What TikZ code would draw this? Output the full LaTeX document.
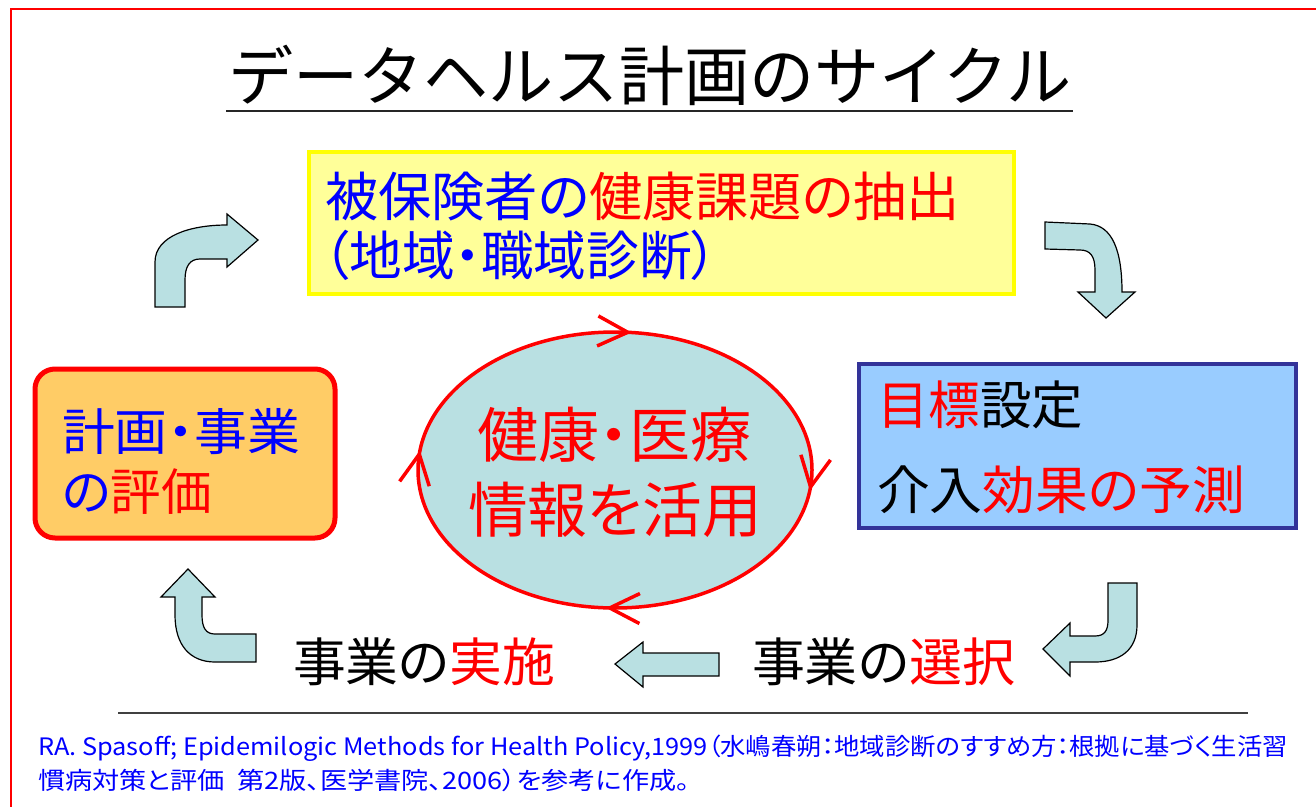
\documentclass[tikz,border=0pt]{standalone}
\usepackage{fontspec}
\usetikzlibrary{arrows.meta,decorations.markings}
\setmainfont{Noto Sans CJK JP}[RawFeature={+palt}]
\newfontfamily\titlefont{Noto Sans CJK JP}
\definecolor{jblue}{RGB}{0,0,255}
\definecolor{jred}{RGB}{255,0,0}
\definecolor{ylwfill}{RGB}{255,255,153}
\definecolor{ylwline}{RGB}{255,255,0}
\definecolor{bluefill}{RGB}{153,204,255}
\definecolor{blueline}{RGB}{51,51,153}
\definecolor{orgfill}{RGB}{255,204,102}
\definecolor{tealfill}{RGB}{185,224,226}
\newsavebox\fitbox
\newcommand\fitw[2]{\sbox\fitbox{#2}\pgfmathsetmacro\fitratio{#1/\the\wd\fitbox}\scalebox{\fitratio}[1]{\usebox\fitbox}}
\newcommand\fs[1]{\fontsize{#1}{#1}\selectfont}
\newcommand\vtip{\draw[jred, line width=3.5pt, line join=round, fill=none] (-30pt,15pt) -- (0pt,0pt) -- (-30pt,-15pt);}
\tikzset{
  txt/.style={anchor=west, inner sep=0pt, outer sep=0pt},
  blockarrow/.style={fill=tealfill, draw=black, line width=1.2pt, line join=miter},
  vbarb/.style={decoration={markings,
     mark=at position 0.016 with {\vtip},
     mark=at position 0.255 with {\vtip},
     mark=at position 0.515 with {\vtip},
     mark=at position 0.762 with {\vtip}},
     postaction={decorate}}
}
\begin{document}
\begin{tikzpicture}[x=1pt,y=-1pt]
\useasboundingbox (0,0) rectangle (1316,806);
\clip (0,0) rectangle (1316,806);
\fill[white] (0,0) rectangle (1316,806);
% outer frame
\draw[jred, line width=2pt] (11,9) rectangle (1340,840);

% title
\node[txt] (title) at (228,75) {\titlefont\fs{65}\fitw{844}{データヘルス計画のサイクル}};
\coordinate (ulA) at (226,111);
\coordinate (ulB) at (1073,111);
\draw[black!85, line width=2pt] (ulA) -- (ulB);

% yellow box
\node[draw=ylwline, fill=ylwfill, line width=4pt, minimum width=705pt, minimum height=142pt, inner sep=0pt] (extract) at (661.5,223) {};
\node[txt] (ex1) at (325,196) {\fs{53}\fitw{635}{\color{jblue}被保険者の\color{jred}健康課題の抽出}};
\node[txt] (ex2) at (323,255) {\fs{53}\fitw{395}{\color{jblue}（地域・職域診断）}};

% blue box
\node[draw=blueline, fill=bluefill, line width=4pt, minimum width=437pt, minimum height=164pt, inner sep=0pt] (goal) at (1077.5,446) {};
\node[txt] (g1) at (877,405) {\fs{52}\fitw{206}{\color{jred}目標\color{black}設定}};
\node[txt] (g2) at (877,490) {\fs{52}\fitw{368}{\color{black}介入\color{jred}効果の予測}};

% orange box
\node[draw=jred, fill=orgfill, line width=5pt, rounded corners=20pt, minimum width=300pt, minimum height=169pt, inner sep=0pt] (eval) at (185,453.5) {};
\node[txt] (e1) at (62,432) {\fs{50}\fitw{238}{\color{jblue}計画・事業}};
\node[txt] (e2) at (62,492) {\fs{50}\fitw{150}{\color{jblue}の\color{jred}評価}};

% central ellipse
\draw[jred, line width=3.5pt, fill=tealfill, vbarb] (615,470) ellipse (197 and 138);
\node[txt] (h1) at (477,435) {\fs{60}\fitw{275}{\color{jred}健康・医療}};
\node[txt] (h2) at (468,510) {\fs{60}\fitw{294}{\color{jred}情報を活用}};

% bottom texts
\node[txt] (sel) at (752,662) {\fs{52}\fitw{263}{\color{black}事業の\color{jred}選択}};
\node[txt] (impl) at (293,662) {\fs{52}\fitw{262}{\color{black}事業の\color{jred}実施}};

% block arrows
\draw[blockarrow] (155,307) -- (155,262) .. controls (155,236) and (190,225) .. (227,225)
  -- (227,214) -- (258,240) -- (227,267) -- (227,259) -- (200,259)
  .. controls (190,259) and (185,266) .. (185,280) -- (185,307) -- cycle;
\draw[blockarrow] (1045,222) -- (1090,224) .. controls (1112,226) and (1122,250) .. (1122,292)
  -- (1135,292) -- (1106,318) -- (1078,292) -- (1095,292) -- (1095,270)
  .. controls (1095,256) and (1090,250) .. (1080,250) -- (1045,249) -- cycle;
\draw[blockarrow] (1108,583) -- (1137,583) -- (1137,625) .. controls (1137,650) and (1120,662) .. (1095,662)
  -- (1070,662) -- (1070,676) -- (1043,649) -- (1070,623) -- (1070,636) -- (1095,636)
  .. controls (1105,636) and (1108,630) .. (1108,620) -- cycle;
\draw[blockarrow] (256,634) -- (215,634) .. controls (206,634) and (202,628) .. (202,615)
  -- (202,597) -- (215,597) -- (188,569) -- (161,597) -- (175,597) -- (175,615)
  .. controls (175,645) and (190,662) .. (215,662) -- (256,662) -- cycle;
\draw[blockarrow] (719,653) -- (643,653) -- (643,642) -- (615,664) -- (643,687) -- (643,676) -- (719,676) -- cycle;

% separator
\coordinate (sepA) at (118,713);
\coordinate (sepB) at (1248,713);
\draw[black!75, line width=1.5pt] (sepA) -- (sepB);

% footnote
\node[txt] (f1) at (38,748) {\fs{24}\fitw{1250}{\color{jblue}RA. Spasoff; Epidemilogic Methods for Health Policy,1999（水嶋春朔：地域診断のすすめ方：根拠に基づく生活習}};
\node[txt] (f2) at (38,780) {\fs{24}\fitw{652}{\color{jblue}慣病対策と評価\ \ 第2版、医学書院、2006）を参考に作成。}};
\end{tikzpicture}
\end{document}
